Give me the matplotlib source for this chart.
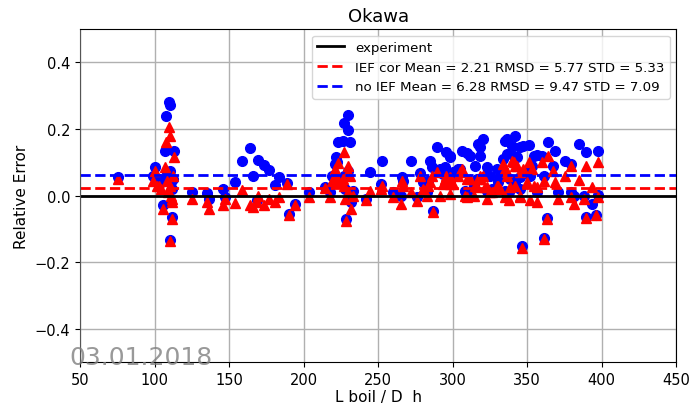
import matplotlib
matplotlib.use("Agg")
import matplotlib.pyplot as plt
import numpy as np

# L_boil / D_h for each measured point
l_boil = [75.7, 100.3, 99.2, 101.5, 103.0, 104.0, 105.9, 107.0, 107.7, 108.5,
          109.0, 109.9, 110.4, 110.4, 110.4, 111.5, 112.0, 113.0, 112.6, 112.0,
          111.0, 125.0, 135.5, 136.8, 145.8, 147.0, 154.0, 158.9, 164.1, 165.9,
          169.2, 168.6, 173.7, 177.0, 180.9, 183.8, 188.7, 190.3, 194.3, 203.9,
          214.4, 217.8, 218.9, 221.1, 221.8, 222.7, 223.4, 226.7, 227.2, 227.4,
          228.0, 228.3, 229.6, 230.0, 230.0, 231.2, 231.5, 233.4, 241.9, 244.6,
          251.8, 252.5, 259.8, 265.2, 265.9, 266.5, 271.9, 276.0, 278.2, 280.4,
          282.6, 283.8, 284.9, 286.0, 287.1, 289.4, 291.6, 293.8, 295.0, 295.6,
          297.9, 298.3, 298.3, 300.5, 303.9, 305.0, 306.2, 308.4, 309.5, 309.5,
          311.7, 314.0, 315.1, 316.2, 316.9, 318.5, 318.5, 320.7, 321.8, 322.9,
          322.9, 325.2, 326.3, 329.6, 330.7, 332.0, 334.1, 335.2, 335.2, 336.4,
          336.4, 337.5, 338.6, 339.7, 341.3, 341.9, 342.0, 343.1, 345.3, 345.3,
          345.3, 346.4, 346.9, 349.8, 350.9, 352.0, 353.1, 354.3, 356.5, 356.5,
          359.8, 361.0, 361.0, 363.2, 364.3, 367.6, 368.8, 371.0, 375.5, 379.3,
          379.5, 381.1, 385.1, 388.3, 389.4, 389.6, 393.4, 396.3, 397.2, 397.2]

# relative error without the IEF correction
err_no_ief = [0.055, 0.085, 0.060, 0.045, 0.050, 0.040, -0.028, 0.135, 0.238, 0.070,
              0.060, 0.280, 0.272, -0.133, 0.075, 0.050, -0.066, 0.133, 0.050, 0.020,
              0.040, 0.010, 0.008, -0.010, 0.021, -0.005, 0.040, 0.105, 0.142, 0.059,
              0.108, -0.015, 0.093, 0.077, 0.032, 0.056, 0.038, -0.056, -0.026, 0.010,
              0.025, 0.010, 0.060, 0.095, 0.115, 0.100, 0.160, 0.165, 0.218, 0.060,
              0.020, -0.072, 0.242, 0.198, 0.075, 0.162, -0.020, 0.015, -0.010, 0.072,
              0.034, 0.105, 0.010, 0.000, 0.055, 0.045, 0.105, -0.005, 0.068, 0.040,
              0.010, 0.045, 0.105, 0.085, -0.046, 0.145, 0.080, 0.065, 0.085, 0.130,
              0.115, 0.050, 0.120, 0.070, 0.080, 0.080, 0.135, 0.014, 0.012, 0.127,
              0.120, 0.030, 0.090, 0.050, 0.155, 0.145, 0.120, 0.170, 0.060, 0.085,
              0.014, 0.060, 0.020, 0.080, 0.040, 0.055, 0.110, 0.165, 0.014, 0.170,
              0.125, 0.010, 0.050, 0.150, 0.120, 0.180, 0.040, 0.115, 0.145, 0.055,
              0.020, -0.153, 0.150, 0.070, 0.152, 0.060, 0.090, 0.120, 0.122, 0.010,
              0.120, -0.127, 0.060, -0.067, 0.162, 0.090, 0.135, 0.010, 0.105, 0.011,
              0.095, 0.000, 0.155, 0.000, -0.065, 0.130, -0.026, -0.058, 0.133, 0.002]

# relative error with the IEF correction
err_ief = [0.050, 0.075, 0.045, 0.030, 0.030, 0.020, -0.040, 0.085, 0.160, 0.045,
           0.010, 0.205, 0.180, -0.138, 0.030, -0.010, -0.070, 0.115, 0.060, -0.020,
           0.000, -0.010, -0.020, -0.040, -0.030, -0.010, -0.022, 0.017, -0.030, -0.035,
           0.000, -0.020, -0.030, -0.009, -0.019, -0.005, 0.035, -0.060, -0.030, -0.005,
           0.022, -0.005, 0.045, 0.080, 0.060, 0.040, 0.098, 0.050, 0.130, 0.030,
           -0.010, -0.076, 0.090, 0.070, 0.010, 0.060, -0.040, 0.000, -0.015, 0.014,
           0.020, 0.030, -0.005, -0.025, 0.045, 0.030, 0.010, -0.018, 0.058, 0.020,
           0.000, 0.030, 0.040, 0.060, -0.050, 0.070, 0.000, 0.035, 0.050, 0.060,
           0.055, 0.005, 0.035, 0.035, 0.060, 0.070, 0.080, 0.000, -0.005, 0.050,
           0.050, 0.000, 0.030, 0.025, 0.050, 0.050, 0.060, 0.060, 0.025, 0.025,
           -0.010, 0.010, 0.010, 0.030, 0.030, 0.020, 0.095, 0.080, -0.005, 0.060,
           0.070, -0.015, 0.025, 0.105, 0.100, 0.090, 0.030, 0.090, 0.070, -0.005,
           0.000, -0.158, 0.080, 0.040, 0.100, -0.015, 0.080, 0.030, 0.025, -0.020,
           0.100, -0.130, 0.045, -0.071, 0.120, 0.075, 0.040, -0.010, 0.060, -0.005,
           0.088, -0.026, 0.048, -0.010, -0.068, 0.090, 0.025, -0.060, 0.100, -0.005]

# statistics in percent
stats_ief = {"mean": 2.21, "rmsd": 5.77, "std": 5.33}
stats_no_ief = {"mean": 6.28, "rmsd": 9.47, "std": 7.09}

fig = plt.figure(figsize=(6.9, 4.06), dpi=100)
ax = fig.add_axes([0.116, 0.106, 0.864, 0.820])

ax.plot(l_boil, err_no_ief, "bo", markersize=7)
ax.plot(l_boil, err_ief, "r^", markersize=7)

ax.axhline(0.0, color="k", lw=2, label="experiment")
ax.axhline(stats_ief["mean"] / 100, color="r", ls="--", lw=2,
           label="IEF cor Mean = %.2f RMSD = %.2f STD = %.2f"
           % (stats_ief["mean"], stats_ief["rmsd"], stats_ief["std"]))
ax.axhline(stats_no_ief["mean"] / 100, color="b", ls="--", lw=2,
           label="no IEF Mean = %.2f RMSD = %.2f STD = %.2f"
           % (stats_no_ief["mean"], stats_no_ief["rmsd"], stats_no_ief["std"]))

ax.set_xlim(50, 450)
ax.set_ylim(-0.5, 0.5)
ax.set_yticks([-0.4, -0.2, 0.0, 0.2, 0.4])
ax.grid(True, color="#b0b0b0", lw=1)
ax.spines["left"].set_color("#555555")
ax.tick_params(labelsize=10.5)

ax.set_title("Okawa", fontsize=13)
ax.set_xlabel("L boil / D  h", fontsize=11, labelpad=1.5)
ax.set_ylabel("Relative Error", fontsize=11)
ax.legend(loc="upper right", fontsize=9.6)

fig.text(0.1, 0.1, "03.01.2018", fontsize=18, color="gray", alpha=0.8)

fig.savefig("out.png", dpi=100)
